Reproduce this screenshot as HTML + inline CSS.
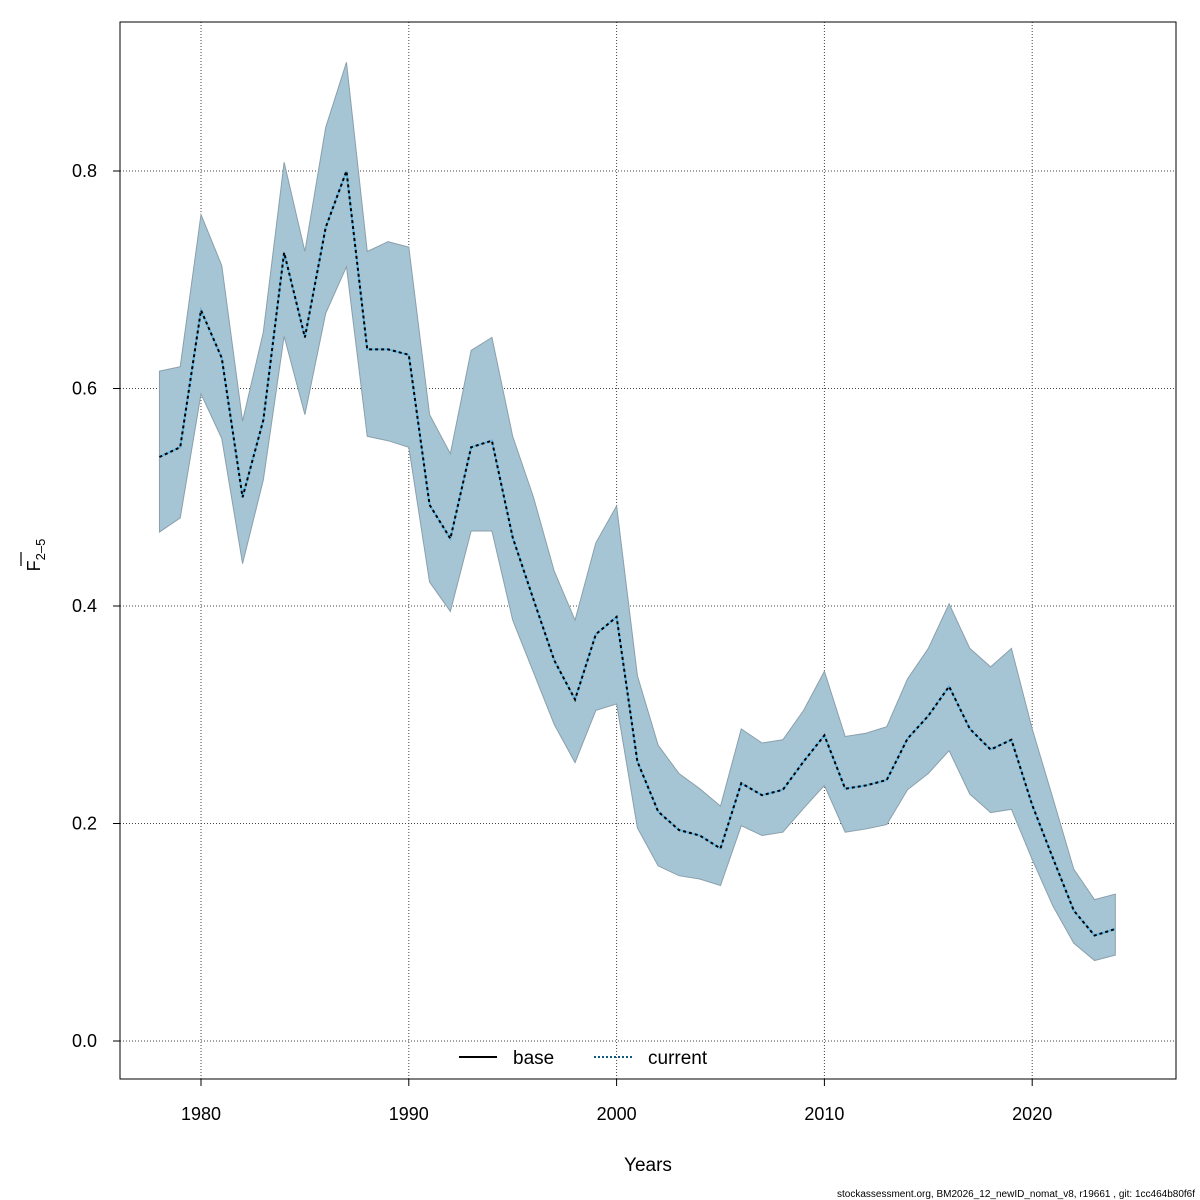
<!DOCTYPE html>
<html><head><meta charset="utf-8"><style>
body{margin:0;background:#fff;}
svg{display:block;font-family:"Liberation Sans",sans-serif;}
</style></head><body>
<svg id="chart" width="1200" height="1200" xmlns="http://www.w3.org/2000/svg"></svg>
<script>
const years = [];
for (let y = 1978; y <= 2024; y++) years.push(y);
const fbar = [0.537,0.546,0.672,0.628,0.500,0.571,0.725,0.647,0.748,0.800,0.636,0.636,0.631,0.493,0.462,0.546,0.552,0.463,0.406,0.350,0.314,0.374,0.390,0.257,0.211,0.194,0.189,0.177,0.237,0.226,0.231,0.257,0.281,0.232,0.235,0.240,0.278,0.299,0.326,0.287,0.268,0.277,0.217,0.168,0.120,0.097,0.103];
const upper = [0.616,0.620,0.760,0.713,0.570,0.652,0.808,0.726,0.840,0.900,0.726,0.735,0.730,0.576,0.540,0.635,0.647,0.556,0.500,0.432,0.387,0.458,0.492,0.336,0.272,0.246,0.232,0.216,0.287,0.274,0.277,0.304,0.340,0.280,0.283,0.289,0.333,0.361,0.402,0.361,0.344,0.361,0.287,0.223,0.158,0.130,0.135];
const lower = [0.468,0.481,0.595,0.554,0.439,0.516,0.648,0.576,0.669,0.712,0.556,0.552,0.546,0.422,0.395,0.469,0.469,0.387,0.339,0.291,0.256,0.304,0.310,0.196,0.161,0.152,0.149,0.143,0.198,0.189,0.192,0.214,0.235,0.192,0.195,0.199,0.231,0.246,0.267,0.227,0.210,0.213,0.167,0.124,0.090,0.074,0.079];
const xTicks = [1980,1990,2000,2010,2020];
const yTicks = [0,0.2,0.4,0.6,0.8];
const yTickLabels = ["0.0","0.2","0.4","0.6","0.8"];

const NS = "http://www.w3.org/2000/svg";
const svg = document.getElementById('chart');
const X = y => 201 + (y - 1980) * 20.78;
const Y = v => 1041 - v * 1087.5;
function mk(tag, attrs, parent) {
  const e = document.createElementNS(NS, tag);
  for (const k in attrs) e.setAttribute(k, attrs[k]);
  (parent || svg).appendChild(e);
  return e;
}
function txt(x,y,s,size,anchor,name){
  const t = mk('text', {x:x,y:y,'font-size':size,'text-anchor':anchor});
  t.textContent = s;
  
  
  return t;
}
xTicks.forEach(t => {
  const g = mk('line', {x1:X(t), x2:X(t), y1:22, y2:1079, stroke:'#444', 'stroke-width':1, 'stroke-dasharray':'1,2'});
  
  
});
yTicks.forEach(t => {
  const g = mk('line', {x1:120, x2:1176, y1:Y(t), y2:Y(t), stroke:'#444', 'stroke-width':1, 'stroke-dasharray':'1,2'});
  
  
});
let pts = years.map((y,i) => X(y)+','+Y(upper[i]));
for (let i = years.length-1; i >= 0; i--) pts.push(X(years[i])+','+Y(lower[i]));
const band = mk('polygon', {points: pts.join(' '), fill:'#a5c4d4', stroke:'#8aa0ab', 'stroke-width':1});


const lp = years.map((y,i) => X(y)+','+Y(fbar[i])).join(' ');
const base = mk('polyline', {points: lp, fill:'none', stroke:'#5fb8e6', 'stroke-width':2});


const cur = mk('polyline', {points: lp, fill:'none', stroke:'#000', 'stroke-width':2, 'stroke-dasharray':'3,3'});


const box = mk('rect', {x:120, y:22, width:1056, height:1057, fill:'none', stroke:'#000', 'stroke-width':1});


xTicks.forEach(t => {
  const l = mk('line', {x1:X(t), x2:X(t), y1:1079, y2:1086, stroke:'#000'});
  
  
  txt(X(t),1120,String(t),18,'middle','x-tick-label');
});
yTicks.forEach((t,i) => {
  const l = mk('line', {x1:113, x2:120, y1:Y(t), y2:Y(t), stroke:'#000'});
  
  
  txt(97,Y(t)+6,yTickLabels[i],18,'end','y-tick-label');
});
txt(648,1171,'Years',19,'middle','x-axis-title');
const yt = mk('text', {x:0, y:0, 'font-size':18, 'text-anchor':'middle', transform:'translate(40,555) rotate(-90)'});


yt.innerHTML = 'F<tspan font-size="13" dy="5">2–5</tspan>';
const ob = mk('line', {x1:21, x2:21, y1:552, y2:566, stroke:'#000', 'stroke-width':1.2});


const lg = mk('g', {});


const l1 = mk('line', {x1:459, x2:497, y1:1057, y2:1057, stroke:'#000', 'stroke-width':2}, lg);


txt(513,1064,'base',19,'start','legend-base-label');
const l2 = mk('line', {x1:594, x2:632, y1:1057, y2:1057, stroke:'#0e5a80', 'stroke-width':2, 'stroke-dasharray':'2,2'}, lg);


txt(648,1064,'current',19,'start','legend-current-label');
txt(1195,1197,'stockassessment.org, BM2026_12_newID_nomat_v8, r19661 , git: 1cc464b80f6f',10,'end','footer-note');
</script>
</body></html>
